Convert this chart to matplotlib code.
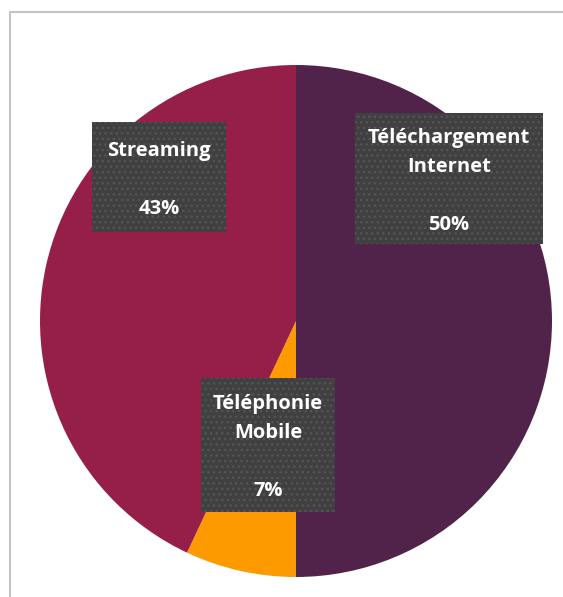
import matplotlib
matplotlib.use("Agg")
import matplotlib.pyplot as plt
from matplotlib.patches import Rectangle

# ---------------------------------------------------------------------------
# Data
# ---------------------------------------------------------------------------
labels = ["Téléchargement\nInternet", "Téléphonie\nMobile", "Streaming"]
shares = [50, 7, 43]
colors = ["#52234a", "#fd9a00", "#951f48"]

# label boxes (pixel coords from top-left: x0, y0, x1, y1)
boxes = [(355, 113, 543, 244), (201, 378, 335, 512), (92, 122, 226, 232)]

W, H = 563, 597
fig = plt.figure(figsize=(W / 100, H / 100), dpi=100)
fig.patch.set_facecolor("white")

# chart-area border (partially cropped in the reference)
fig.add_artist(Rectangle((9.5 / W, -0.1), 1.2, (H - 12) / H + 0.1,
                         transform=fig.transFigure, fill=False,
                         edgecolor="#c4c4c4", linewidth=1.5))

# pie: centre (296, 321) px, radius 256 px
cx, cy, r = 296, 321, 256
ax = fig.add_axes([(cx - r) / W, (H - cy - r) / H, 2 * r / W, 2 * r / H])
ax.pie(shares, colors=colors, startangle=90, counterclock=False,
       radius=1.0, wedgeprops=dict(linewidth=0))
ax.set_xlim(-1, 1)
ax.set_ylim(-1, 1)
ax.set_aspect("auto")
ax.axis("off")

# data labels
for lab, val, (x0, y0, x1, y1) in zip(labels, shares, boxes):
    fig.add_artist(Rectangle((x0 / W, 1 - y1 / H), (x1 - x0) / W, (y1 - y0) / H,
                             transform=fig.transFigure, facecolor="#404040",
                             edgecolor="#555555", linewidth=0, hatch="..."))
    txt = lab + "\n\n" + f"{val}%"
    xc = (x0 + x1) / 2
    yc = (y0 + y1) / 2 + 3
    fig.text(xc / W, 1 - yc / H, txt, ha="center", va="center",
             multialignment="center", color="white", fontsize=14.5,
             fontweight="bold", family=["Open Sans", "DejaVu Sans"],
             linespacing=1.6)

fig.savefig("out.png", dpi=100)
